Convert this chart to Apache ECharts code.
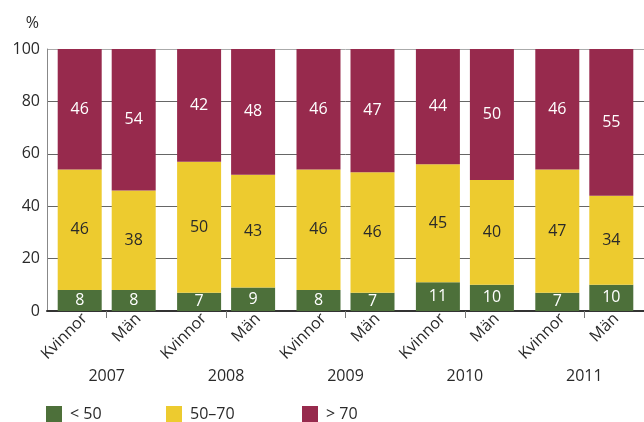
<!DOCTYPE html>
<html>
<head>
<meta charset="utf-8">
<script src="https://cdn.jsdelivr.net/npm/echarts@6/dist/echarts.min.js"></script>
<style>
html,body{margin:0;padding:0;background:#fff;}
#chart{width:644px;height:422px;}
</style>
</head>
<body>
<div id="chart"></div>
<script>
var years = ['2007', '2008', '2009', '2010', '2011'];
var genders = ['Kvinnor', 'Män'];
var seriesNames = ['< 50', '50–70', '> 70'];
// values per year (bar heights as drawn)
var kvinnorUnder50 = [8, 7, 8, 11, 7];
var kvinnor50to70 = [46, 50, 46, 45, 47];
var kvinnorOver70 = [46, 43, 46, 44, 46];
var manUnder50 = [8, 9, 7, 10, 10];
var man50to70 = [38, 43, 46, 40, 34];
var manOver70 = [54, 48, 47, 50, 56];
// printed labels of the top segment (rounded figures as printed)
var kvinnorOver70Labels = [46, 42, 46, 44, 46];
var manOver70Labels = [54, 48, 47, 50, 55];
var yTicks = [0, 20, 40, 60, 80, 100];

var colors = ['#4d703a', '#edcb2f', '#972a4d'];
var labelColors = ['#ffffff', '#2a2a2a', '#ffffff'];
var font = '"Open Sans", "Noto Sans", sans-serif';
var txt = '#2a2a2a';
var fs = 16;

// layout constants (pixels)
var plotLeft = 47, plotW = 600, catW = plotW / years.length, barW = 44, barGapPx = 10;

function mk(name, idx, stack, data, labels) {
  return {
    type: 'bar', name: name, stack: stack,
    data: data.map(function (v, i) {
      var d = { value: v };
      if (labels) d.label = { formatter: String(labels[i]) };
      return d;
    }),
    xAxisIndex: 0, yAxisIndex: 0, barWidth: barW, barGap: (barGapPx / barW * 100) + '%',
    itemStyle: { color: colors[idx] },
    label: { show: true, position: 'inside', color: labelColors[idx], fontSize: fs, fontFamily: font },
    emphasis: { disabled: true }
  };
}

// sub-label positions (in px units on a 0..600 value axis), derived from layout
var subLabelPos = [], subTickPos = [];
years.forEach(function (y, i) {
  var c = i * catW + catW / 2;
  subLabelPos.push(c - (barW + barGapPx) / 2 + 5);
  subLabelPos.push(c + (barW + barGapPx) / 2 + 5);
});
for (var t = catW / 2; t <= plotW; t += catW) subTickPos.push(t);

function legend(i, left) {
  return {
    data: [seriesNames[i]], left: left, top: 406, padding: 0, itemWidth: 16, itemHeight: 16,
    icon: 'rect', selectedMode: false,
    formatter: function (n) { return '{p|}{t|' + n + '}'; },
    textStyle: { fontSize: fs, color: txt, fontFamily: font,
      rich: { p: { width: 3 }, t: { fontSize: fs, color: txt, fontFamily: font } } }
  };
}

var chart = echarts.init(document.getElementById('chart'));
chart.setOption({
  animation: false,
  textStyle: { fontFamily: font },
  grid: { left: plotLeft, top: 49, width: plotW, height: 262, containLabel: false },
  legend: [legend(0, 46), legend(1, 166), legend(2, 302)],
  xAxis: [{
    type: 'category', data: years, position: 'bottom',
    axisLine: { lineStyle: { color: '#333', width: 2 } },
    axisTick: { length: 17, lineStyle: { color: '#777' }, interval: function (i) { return i > 0; } },
    axisLabel: { margin: 57, fontSize: fs, color: txt, fontFamily: font }
  }, {
    type: 'value', min: 0, max: plotW, position: 'bottom', gridIndex: 0,
    axisLine: { show: false }, splitLine: { show: false },
    axisTick: { show: true, length: 7, lineStyle: { color: '#777' }, customValues: subTickPos },
    axisLabel: {
      rotate: 45, margin: 5, fontSize: fs, color: txt, fontFamily: font,
      customValues: subLabelPos, showMinLabel: true, showMaxLabel: true,
      formatter: function (v) { return genders[Math.floor(v / (catW / 2)) % 2]; }
    }
  }],
  yAxis: {
    type: 'value', min: yTicks[0], max: yTicks[yTicks.length - 1], interval: 20,
    name: '%', nameGap: 18, nameTextStyle: { fontSize: fs, color: txt, align: 'right', padding: [0, 8, 0, 0], fontFamily: font },
    axisLine: { show: true, lineStyle: { color: '#888' } },
    axisTick: { show: false },
    axisLabel: { margin: 7, fontSize: fs, color: txt, fontFamily: font },
    splitLine: { lineStyle: { color: ['#666', '#666', '#666', '#666', '#666', '#aaa'] } }
  },
  series: [
    mk(seriesNames[0], 0, 'K', kvinnorUnder50),
    mk(seriesNames[1], 1, 'K', kvinnor50to70),
    mk(seriesNames[2], 2, 'K', kvinnorOver70, kvinnorOver70Labels),
    mk(seriesNames[0], 0, 'M', manUnder50),
    mk(seriesNames[1], 1, 'M', man50to70),
    mk(seriesNames[2], 2, 'M', manOver70, manOver70Labels)
  ]
});
</script>
</body>
</html>
